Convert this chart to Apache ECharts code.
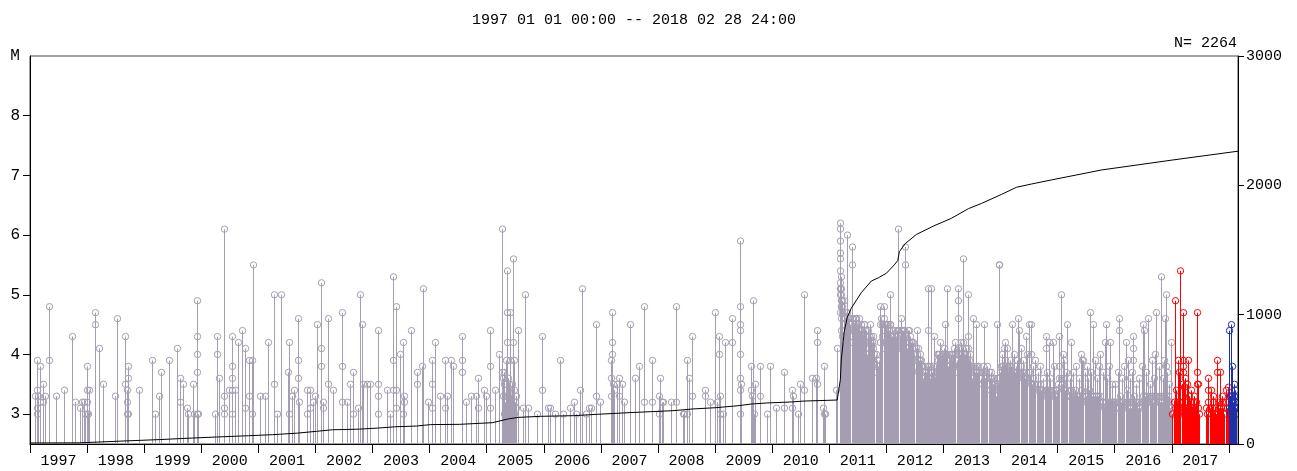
<!DOCTYPE html>
<html><head><meta charset="utf-8">
<script src="https://cdn.jsdelivr.net/npm/echarts@6/dist/echarts.min.js"></script>
<style>html,body{margin:0;padding:0;background:#fff}#c{width:1297px;height:471px}</style>
</head><body><div id="c"></div>
<script>
// ---------- texts & ticks ----------
const titleText = '1997 01 01 00:00 -- 2018 02 28 24:00';
const countText = 'N= 2264';
const magLabel = 'M';
const yearTicks = [1997,1998,1999,2000,2001,2002,2003,2004,2005,2006,2007,2008,2009,2010,2011,2012,2013,2014,2015,2016,2017,2018];
const yearLabels = [1997,1998,1999,2000,2001,2002,2003,2004,2005,2006,2007,2008,2009,2010,2011,2012,2013,2014,2015,2016,2017];
const magTicks = [3,4,5,6,7,8];
const cumTicks = [0,1000,2000,3000];

// ---------- events: [hundredths of year, magnitude] ----------
const ev1997 = [[9,3.3],[13,3.4],[13,3.9],[13,3.1],[13,3.0],[15,3.3],[18,3.8],[19,3.2],[23,3.5],[23,3.2],[28,3.3],[35,4.8],[35,3.9],[47,3.3],[60,3.4],[74,4.3],[79,3.2],[89,3.1],[92,3.2],[96,3.2],[97,3.0]];
const ev1998 = [[0,3.8],[0,3.4],[1,3.2],[1,3.0],[2,3.0],[5,3.4],[15,4.7],[15,4.5],[21,4.1],[28,3.5],[50,3.3],[54,4.6],[68,4.3],[68,3.5],[70,3.4],[70,3.0],[71,3.2],[72,3.0],[73,3.8],[73,3.6],[91,3.4]];
const ev1999 = [[15,3.9],[19,3.0],[26,3.3],[31,3.7],[44,3.9],[59,4.1],[63,3.6],[63,3.2],[69,3.5],[76,3.1],[77,3.0],[87,3.5],[88,3.0],[93,4.9],[93,4.3],[93,4.0],[93,3.7],[93,3.0],[95,3.0]];
const ev2000 = [[25,3.0],[28,4.3],[28,4.0],[32,3.6],[41,6.1],[41,3.3],[41,3.1],[41,3.0],[49,3.4],[54,4.3],[54,3.8],[55,3.6],[55,3.4],[55,3.0],[60,3.4],[66,4.2],[72,4.4],[77,4.1],[78,3.1],[84,3.9],[84,3.3],[90,3.9],[90,3.0],[91,5.5]];
const ev2001 = [[4,3.3],[12,3.3],[18,4.2],[28,5.0],[28,3.5],[33,3.0],[40,5.0],[52,3.7],[55,4.2],[55,3.0],[59,3.3],[63,3.4],[71,4.6],[71,3.9],[71,3.6],[72,3.2],[86,3.4],[86,3.0],[91,3.4],[91,3.1],[96,3.2]];
const ev2002 = [[0,3.3],[4,4.5],[10,5.2],[10,4.1],[10,3.8],[14,3.2],[14,3.1],[23,4.6],[23,3.5],[32,3.4],[48,4.7],[48,3.8],[48,3.2],[56,3.2],[61,3.5],[67,3.7],[67,3.0],[76,3.1],[79,5.0],[82,4.5],[85,3.5],[91,3.5],[96,3.5]];
const ev2003 = [[11,4.4],[11,3.5],[11,3.3],[11,3.0],[26,3.4],[32,3.0],[36,5.3],[36,3.9],[36,3.4],[42,4.8],[42,3.4],[42,3.1],[49,4.0],[54,4.2],[54,3.0],[56,3.3],[56,3.2],[68,4.4],[79,3.7],[79,3.5],[88,3.8],[90,5.1],[98,3.2]];
const ev2004 = [[5,3.9],[5,3.5],[5,3.1],[11,4.2],[19,3.3],[28,3.9],[28,3.1],[32,3.3],[38,3.9],[41,3.8],[57,4.3],[57,3.9],[57,3.7],[65,3.2],[73,3.3],[82,3.3],[86,3.6],[86,3.1],[97,3.4],[99,3.3]];
const ev2005 = [[7,4.4],[7,3.8],[7,3.1],[16,3.4],[23,4.0],[27,6.1],[27,3.7],[30,3.6],[30,3.3],[32,3.7],[32,3.5],[32,3.0],[33,3.2],[34,3.4],[35,3.9],[35,3.2],[36,3.0],[37,5.4],[37,4.7],[37,4.2],[38,3.3],[39,3.6],[40,3.5],[40,3.1],[41,3.2],[42,4.7],[42,3.9],[43,3.0],[44,3.3],[45,3.1],[46,3.5],[47,5.6],[47,4.2],[48,3.0],[49,3.9],[49,3.4],[50,3.2],[52,3.1],[53,3.3],[55,4.4],[64,3.1],[68,5.0],[73,3.1],[89,3.0],[98,4.3],[98,3.4]];
const ev2006 = [[9,3.1],[12,3.1],[20,3.0],[29,3.9],[35,3.0],[46,3.1],[54,3.2],[58,3.0],[64,3.4],[68,5.1],[75,3.0],[80,3.1],[84,3.1],[93,4.5],[93,3.3]];
const ev2007 = [[0,3.2],[18,3.9],[18,3.6],[18,3.3],[21,4.7],[21,4.2],[21,4.0],[22,3.5],[24,3.4],[29,3.5],[32,3.6],[32,3.3],[38,3.5],[41,3.2],[51,4.5],[60,3.6],[67,3.8],[77,4.8],[77,3.2],[91,3.9],[91,3.2]];
const ev2008 = [[2,3.3],[2,3.0],[5,3.6],[8,3.2],[10,3.2],[23,3.2],[32,4.8],[32,3.2],[45,3.0],[47,3.0],[52,3.9],[52,3.0],[55,3.6],[61,4.3],[61,3.3],[84,3.4],[84,3.3],[92,3.2]];
const ev2009 = [[0,4.7],[4,3.2],[8,4.3],[8,4.0],[9,3.3],[10,3.0],[14,3.0],[18,4.2],[30,4.2],[31,4.6],[44,5.9],[44,4.8],[44,4.5],[45,4.4],[44,4.0],[44,3.6],[45,3.4],[44,3.0],[47,3.5],[63,3.8],[63,3.4],[66,3.3],[68,4.9],[69,3.0],[70,3.5],[79,3.8],[79,3.3],[91,3.0],[97,3.8]];
const ev2010 = [[7,3.1],[21,3.7],[21,3.1],[35,3.4],[36,3.1],[37,3.3],[46,3.0],[50,3.5],[56,5.0],[57,3.4],[71,3.6],[77,3.6],[79,4.4],[79,4.2],[79,3.5],[90,3.1],[91,3.8],[92,3.0],[93,3.0]];
const ev2011 = [[12,3.4],[14,4.1],[19,6.2],[19,6.1],[19,5.9],[20,5.7],[19,5.6],[20,5.4],[20,5.2],[19,5.1],[21,5.0],[21,4.9],[22,4.8],[20,4.7],[21,5.3],[22,5.1],[23,4.9],[32,6.0],[40,5.8],[40,5.5],[47,4.6],[53,4.6],[62,4.5],[65,4.4],[72,4.5],[77,4.3],[90,4.8],[96,4.6],[97,4.8]];
const ev2012 = [[8,5.0],[8,4.5],[21,4.4],[22,6.1],[26,4.6],[30,4.4],[33,5.8],[33,5.5],[41,4.4],[46,4.2],[54,4.4],[60,3.9],[73,5.1],[73,4.4],[79,5.1],[84,4.3],[91,4.0],[95,4.2]];
const ev2013 = [[2,4.1],[4,4.5],[7,5.1],[21,4.2],[27,5.1],[27,4.9],[27,4.6],[35,5.6],[44,5.0],[44,4.3],[52,4.6],[58,4.5],[72,4.5],[95,4.5],[98,5.5],[99,5.5]];
const ev2014 = [[7,4.1],[9,4.2],[21,4.5],[31,4.6],[33,4.4],[45,4.3],[50,4.5],[54,4.5],[54,4.0],[81,4.3],[81,4.1],[85,4.2],[93,4.2]];
const ev2015 = [[4,4.3],[7,5.0],[10,4.0],[18,4.5],[25,4.2],[41,4.0],[45,3.9],[58,4.7],[63,4.5],[76,4.0],[84,4.2],[86,4.5],[93,4.2]];
const ev2016 = [[9,4.6],[9,4.4],[21,4.2],[33,4.3],[33,4.1],[33,3.9],[50,4.5],[53,4.4],[59,4.6],[72,4.0],[74,4.7],[82,5.3],[89,4.6],[91,5.0],[91,3.8],[99,4.2]];
const ev2017 = [[6,4.9],[12,3.9],[14,3.7],[16,5.4],[20,4.7],[20,3.8],[21,3.9],[21,3.7],[22,3.45],[30,3.9],[45,4.7],[45,3.7],[45,3.5],[64,3.6],[64,3.4],[69,3.4],[80,3.9],[80,3.7],[85,3.7],[95,3.4],[99,3.45]];
const ev2018 = [[1,4.4],[4,4.5],[7,3.8],[10,3.5],[12,3.4],[12,3.2],[9,3.3],[3,3.3]];

// ---------- dense aftershock swarm (read as the top of the solid band) ----------
const dense2011 = [[19,5.0],[20,5.1],[21,4.9],[22,4.8],[23,4.7],[24,4.8],[26,4.9],[28,4.6],[30,4.7],[32,4.7],[34,4.6],[36,4.6],[38,4.5],[40,4.6],[42,4.6],[44,4.5],[46,4.6],[48,4.6],[50,4.5],[52,4.5],[54,4.4],[56,4.5],[58,4.4],[60,4.3],[62,4.5],[64,4.4],[66,4.3],[68,4.4],[70,4.3],[72,4.2],[74,4.3],[76,4.2],[78,4.1],[80,4.2],[82,4.0],[84,3.9],[86,3.8],[88,3.9],[90,4.5],[92,4.6],[94,4.5],[96,4.4],[98,4.5],
 [21,4.6],[22,4.4],[23,4.3],[25,4.2],[27,4.5],[29,4.3],[33,4.4],[37,4.2],[41,4.3],[45,4.4],[51,4.2],[55,4.3],[59,4.1],[63,4.2],[67,4.0],[71,4.1],[75,3.9],[79,4.0],[83,3.7],[89,4.2],[93,4.3],[97,4.1]];
const dense2012 = [[0,4.5],[2,4.4],[4,4.5],[6,4.4],[8,4.5],[10,4.3],[12,4.4],[14,4.3],[16,4.4],[18,4.3],[20,4.4],[22,4.4],[24,4.3],[26,4.4],[28,4.4],[30,4.3],[32,4.4],[34,4.2],[36,4.3],[38,4.4],[40,4.2],[42,4.3],[44,4.2],[46,4.1],[48,4.2],[50,4.0],[52,4.1],[54,4.0],[56,4.1],[58,3.9],[60,4.0],[62,3.9],[64,3.8],[66,3.7],[68,3.8],[70,3.7],[72,3.8],[74,3.7],[76,3.8],[78,3.6],[80,3.7],[82,3.8],[84,3.7],[86,3.6],[88,3.8],[90,4.0],[92,3.9],[94,4.0],[96,3.9],[98,4.0],
 [1,4.2],[5,4.1],[9,4.3],[13,4.1],[17,4.2],[21,4.1],[25,4.2],[29,4.1],[33,4.0],[37,4.1],[41,4.0],[45,3.9],[49,3.9],[53,3.8],[57,3.7],[61,3.8],[65,3.6],[69,3.5],[73,3.6],[77,3.5],[81,3.6],[85,3.5],[89,3.7],[93,3.8],[97,3.7]];
const dense2013 = [[0,4.0],[2,3.9],[4,4.0],[6,4.0],[8,3.9],[10,4.0],[12,3.9],[14,4.0],[16,3.9],[18,4.0],[20,4.1],[22,4.0],[24,3.9],[26,4.0],[28,4.1],[30,4.0],[32,4.2],[34,4.1],[36,4.2],[38,4.0],[40,4.1],[42,4.0],[44,4.1],[46,3.9],[48,4.0],[50,3.8],[52,3.7],[54,3.8],[56,3.7],[58,3.8],[60,3.7],[62,3.8],[64,3.7],[66,3.6],[68,3.7],[70,3.8],[72,3.7],[74,3.6],[76,3.7],[78,3.8],[80,3.7],[82,3.6],[84,3.7],[86,3.6],[88,3.5],[90,3.6],[92,3.5],[94,3.6],[96,3.5],[98,3.6],
 [1,3.8],[5,3.7],[9,3.8],[13,3.7],[17,3.8],[21,3.9],[25,3.7],[29,3.8],[33,3.9],[37,4.0],[41,3.9],[45,3.8],[51,3.6],[57,3.5],[63,3.6],[69,3.5],[75,3.4],[81,3.5],[87,3.4],[93,3.3],[97,3.4]];
const dense2014 = [[0,3.7],[2,3.8],[4,3.7],[6,3.8],[8,3.7],[10,3.8],[12,3.6],[14,3.7],[16,3.8],[18,3.7],[20,3.8],[22,3.7],[24,3.6],[26,3.7],[28,3.8],[30,3.7],[32,3.6],[34,3.7],[36,3.8],[38,3.7],[40,3.6],[42,3.7],[44,3.6],[46,3.7],[48,3.6],[50,3.7],[52,3.6],[54,3.5],[56,3.5],[58,3.6],[60,3.5],[62,3.4],[64,3.5],[66,3.5],[68,3.4],[70,3.5],[72,3.4],[74,3.4],[76,3.3],[78,3.4],[80,3.4],[82,3.3],[84,3.4],[86,3.3],[88,3.4],[90,3.3],[92,3.4],[94,3.3],[96,3.4],[98,3.3],
 [4,4.0],[8,3.9],[12,4.1],[17,3.9],[25,4.0],[29,3.9],[36,4.1],[40,3.9],[47,4.0],[58,3.8],[62,3.9],[66,3.7],[70,3.8],[76,3.6],[83,3.7],[88,3.6],[95,3.8]];
const dense2015 = [[0,3.4],[2,3.5],[4,3.6],[6,3.6],[8,3.5],[10,3.6],[12,3.5],[14,3.4],[16,3.3],[18,3.4],[20,3.3],[22,3.3],[24,3.4],[26,3.3],[28,3.2],[30,3.3],[32,3.4],[34,3.3],[36,3.3],[38,3.2],[40,3.3],[42,3.4],[44,3.3],[46,3.2],[48,3.3],[50,3.3],[52,3.2],[54,3.3],[56,3.4],[58,3.3],[60,3.2],[62,3.3],[64,3.3],[66,3.2],[68,3.3],[70,3.2],[72,3.3],[74,3.2],[76,3.3],[78,3.2],[80,3.2],[82,3.1],[84,3.2],[86,3.2],[88,3.1],[90,3.2],[92,3.1],[94,3.2],[96,3.1],[98,3.2],
 [3,3.8],[12,3.9],[15,3.7],[22,3.6],[28,3.7],[33,3.8],[38,3.6],[43,3.9],[49,3.7],[52,3.8],[55,3.6],[60,3.7],[66,3.9],[70,3.6],[73,3.8],[80,3.7],[88,3.6],[91,3.8],[96,3.5]];
const dense2016 = [[0,3.2],[2,3.1],[4,3.2],[6,3.1],[8,3.2],[10,3.3],[12,3.2],[14,3.1],[16,3.2],[18,3.1],[20,3.2],[22,3.4],[24,3.2],[26,3.1],[28,3.2],[30,3.1],[32,3.2],[34,3.3],[36,3.2],[38,3.1],[40,3.2],[42,3.1],[44,3.2],[46,3.1],[48,3.2],[50,3.3],[52,3.2],[54,3.3],[56,3.2],[58,3.3],[60,3.2],[62,3.3],[64,3.2],[66,3.3],[68,3.2],[70,3.3],[72,3.2],[74,3.3],[76,3.2],[78,3.3],[80,3.2],[82,3.3],[84,3.2],[86,3.3],[88,3.2],[90,3.3],[92,3.2],[94,3.3],[96,3.2],[98,3.1],
 [2,3.5],[6,3.7],[14,3.6],[17,3.8],[24,3.9],[27,3.6],[31,3.7],[38,3.5],[44,3.6],[48,3.8],[55,3.7],[62,3.5],[66,3.9],[69,3.6],[78,3.8],[85,3.6],[87,3.9],[93,3.7],[96,3.5]];
const dense2017 = [[2,3.0],[4,3.2],[6,3.1],[8,3.0],[10,3.2],[12,3.1],[14,3.2],[16,3.0],[18,3.2],[20,3.1],[22,3.0],[24,3.2],[26,3.1],[28,3.0],[30,3.1],[32,3.2],[34,3.0],[36,3.1],[38,3.2],[40,3.0],[42,3.1],[44,3.2],[46,3.1],[48,3.0],
 [61,3.1],[63,3.0],[65,3.2],[67,3.1],[69,3.0],[71,3.1],[73,3.2],[75,3.0],[77,3.1],[79,3.0],[81,3.2],[83,3.1],[85,3.0],[87,3.1],[89,3.2],[91,3.1],[93,3.0],[95,3.2],[97,3.1],
 [9,3.4],[18,3.5],[24,3.6],[27,3.5],[31,3.3],[35,3.4],[40,3.3],[47,3.5],[73,3.3],[89,3.3]];
const dense2018 = [[1,3.1],[2,3.3],[3,3.0],[4,3.2],[5,3.1],[6,3.3],[7,3.0],[8,3.2],[9,3.1],[10,3.3],[11,3.1],[12,3.2],[13,3.0],[14,3.1]];

// ---------- cumulative number (right axis) ----------
const cumulative = [[1997.000,8],[1997.860,9],[1997.895,18],[1998.684,24],[1998.719,32],[1999.263,34],[1999.298,44],[1999.842,46],[1999.877,52],[2000.263,54],[2000.298,62],[2000.825,64],[2000.860,70],[2001.246,72],[2001.281,82],[2001.684,84],[2001.719,95],[2002.018,98],[2002.053,108],[2002.298,110],[2002.333,113],[2002.772,115],[2002.807,121],[2003.088,123],[2003.123,131],[2003.386,133],[2003.421,137],[2003.772,139],[2003.807,147],[2004.018,150],[2004.526,152],[2004.561,160],[2005.105,165],[2005.140,178],[2005.368,193],[2005.561,206],[2005.947,214],[2006.526,219],[2006.947,230],[2007.526,243],[2007.877,250],[2008.281,258],[2008.614,271],[2009.018,281],[2009.404,296],[2009.632,309],[2009.895,317],[2010.333,325],[2010.561,332],[2011.140,340],[2011.175,345],[2011.195,500],[2011.211,650],[2011.263,870],[2011.316,980],[2011.386,1050],[2011.561,1170],[2011.737,1260],[2011.860,1285],[2012.000,1320],[2012.140,1385],[2012.202,1420],[2012.228,1487],[2012.333,1550],[2012.526,1620],[2012.825,1685],[2013.140,1745],[2013.439,1820],[2013.667,1860],[2014.018,1930],[2014.280,1985],[2014.540,2010],[2014.895,2042],[2015.772,2119],[2017.018,2196],[2018.160,2264]];

// ---------- build ----------
const greyYears = {1997:[ev1997],1998:[ev1998],1999:[ev1999],2000:[ev2000],2001:[ev2001],2002:[ev2002],2003:[ev2003],2004:[ev2004],2005:[ev2005],2006:[ev2006],2007:[ev2007],2008:[ev2008],2009:[ev2009],2010:[ev2010],2011:[dense2011,ev2011],2012:[dense2012,ev2012],2013:[dense2013,ev2013],2014:[dense2014,ev2014],2015:[dense2015,ev2015],2016:[dense2016,ev2016]};
function toData(year, lists){const out=[];lists.forEach(l=>l.forEach(p=>out.push([year+p[0]/100,p[1]])));return out;}
let greyData=[];Object.keys(greyYears).forEach(y=>{greyData=greyData.concat(toData(+y,greyYears[y]));});
const redData = toData(2017,[dense2017,ev2017]);
const blueData = toData(2018,[dense2018,ev2018]);

const FONT='"Liberation Mono", "DejaVu Sans Mono", monospace';
const MMIN=2.5, MMAX=9, TMIN=1997, TMAX=2018.16;
function stem(color){
  return function(params, api){
    const t=api.value(0), m=api.value(1);
    const top=api.coord([t,m]); const base=api.coord([t,MMIN]);
    const x=Math.floor(top[0])+0.5;
    return {type:'group',children:[
      {type:'line',shape:{x1:x,y1:top[1],x2:x,y2:base[1]},style:{stroke:color,lineWidth:1}},
      {type:'circle',shape:{cx:x,cy:top[1],r:3.2},style:{fill:'none',stroke:color,lineWidth:1}}
    ]};
  };
}
const chart=echarts.init(document.getElementById('c'),null,{renderer:'canvas'});
chart.setOption({
  animation:false,
  backgroundColor:'#fff',
  grid:{left:30,right:59,top:56,bottom:27,show:true,borderColor:'#444',borderWidth:1,backgroundColor:'transparent'},
  xAxis:{type:'value',min:TMIN,max:TMAX,
    axisLine:{show:true,lineStyle:{color:'#000',width:1}},
    axisTick:{show:true,length:9,customValues:yearTicks,lineStyle:{color:'#000'}},
    axisLabel:{customValues:yearLabels.map(y=>y+0.5),formatter:v=>String(Math.floor(v)),color:'#000',fontFamily:FONT,fontSize:15,margin:10},
    splitLine:{show:false}},
  yAxis:[
    {type:'value',min:MMIN,max:MMAX,position:'left',
     axisLine:{show:true,lineStyle:{color:'#000'}},
     axisTick:{show:true,length:7,customValues:magTicks,lineStyle:{color:'#000'}},
     axisLabel:{customValues:magTicks,formatter:v=>String(v),color:'#000',fontFamily:FONT,fontSize:16,margin:10},
     splitLine:{show:false}},
    {type:'value',min:0,max:3000,interval:1000,position:'right',
     axisLine:{show:true,lineStyle:{color:'#000'}},
     axisTick:{show:true,length:6,customValues:cumTicks,lineStyle:{color:'#000'}},
     axisLabel:{customValues:cumTicks,formatter:v=>String(v),color:'#000',fontFamily:FONT,fontSize:15,margin:8},
     splitLine:{show:false}}
  ],
  graphic:[
    {type:'text',x:634,y:20,style:{text:titleText,font:'15px '+FONT,align:'center',verticalAlign:'middle',fill:'#000'}},
    {type:'text',x:1237,y:43,style:{text:countText,font:'15px '+FONT,align:'right',verticalAlign:'middle',fill:'#000'}},
    {type:'text',x:15,y:56,style:{text:magLabel,font:'16px '+FONT,align:'center',verticalAlign:'middle',fill:'#000'}}
  ],
  series:[
    {type:'custom',name:'before',renderItem:stem('#a59eb2'),data:greyData,encode:{x:0,y:1},clip:true,silent:true,z:2},
    {type:'custom',name:'2017',renderItem:stem('#ff0000'),data:redData,encode:{x:0,y:1},clip:true,silent:true,z:3},
    {type:'custom',name:'2018',renderItem:stem('#1f2fa8'),data:blueData,encode:{x:0,y:1},clip:true,silent:true,z:4},
    {type:'line',name:'N',yAxisIndex:1,data:cumulative,showSymbol:false,lineStyle:{color:'#000',width:1},silent:true,z:5}
  ]
});
</script></body></html>
